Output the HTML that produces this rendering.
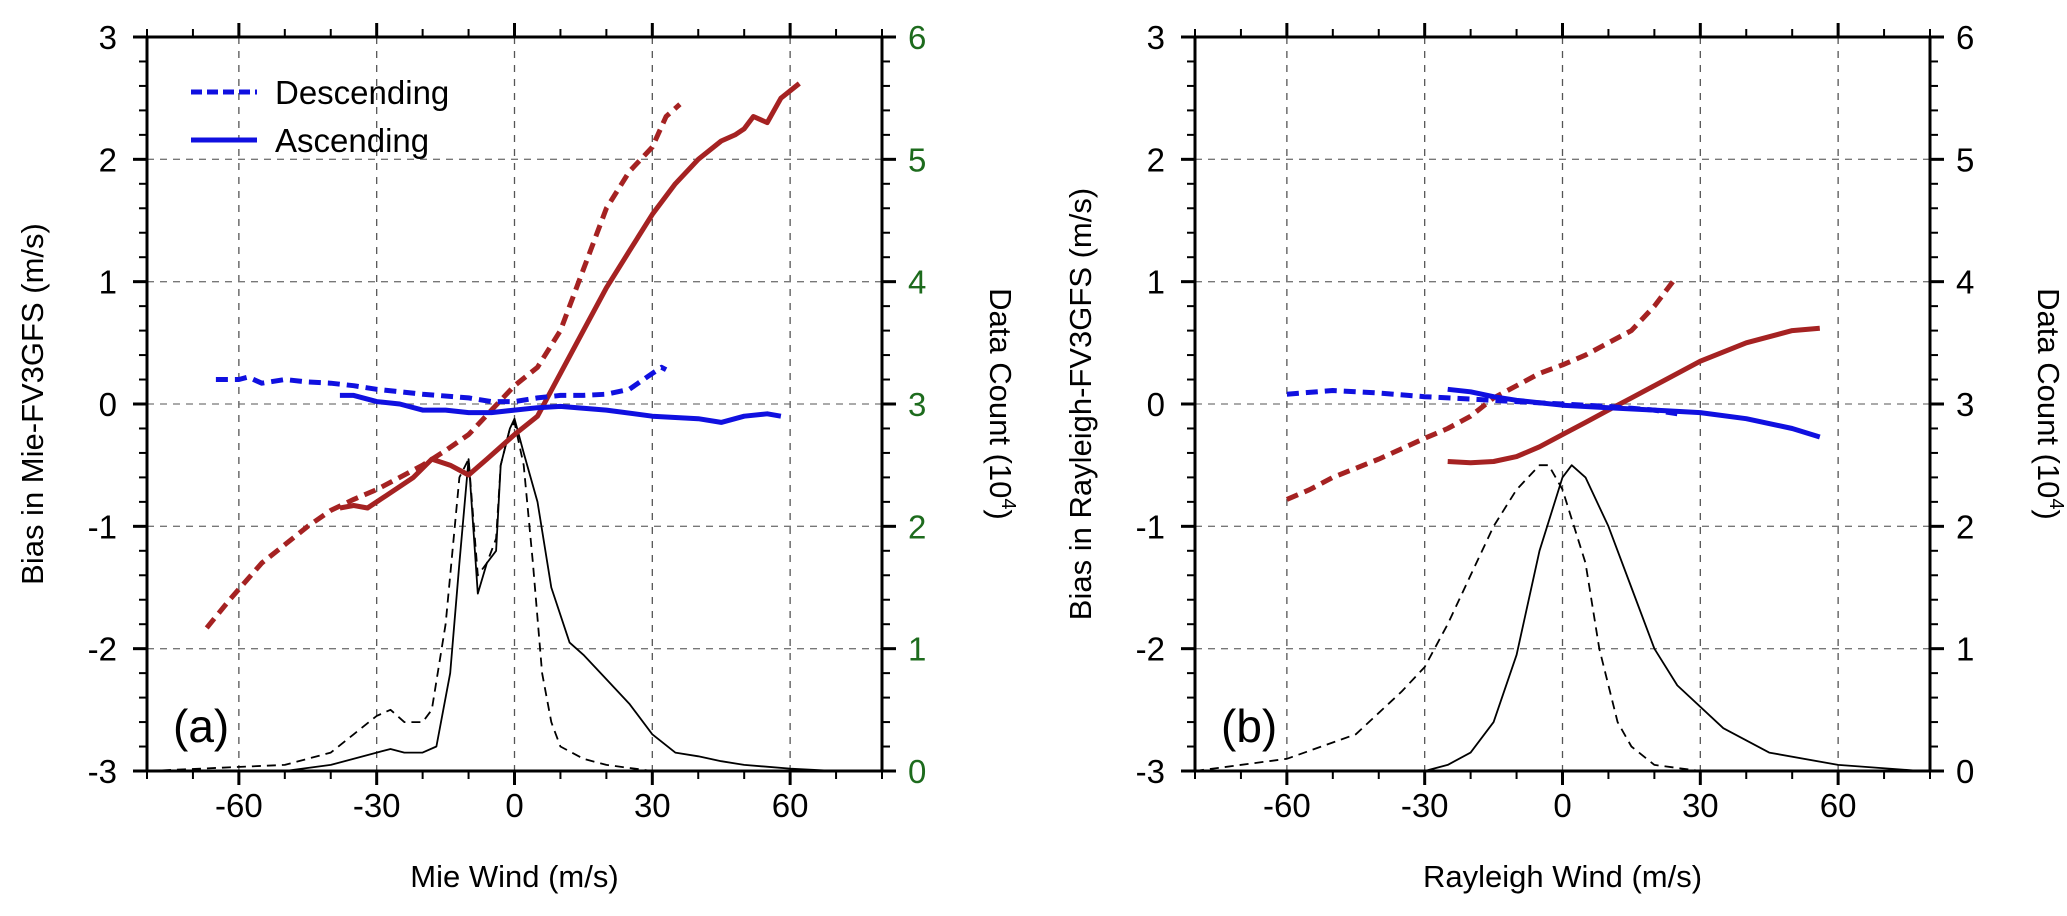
<!DOCTYPE html>
<html><head><meta charset="utf-8"><style>
html,body{margin:0;padding:0;background:#fff;}
svg{display:block;font-family:"Liberation Sans",sans-serif;}
</style></head><body>
<svg id="chart" width="2067" height="916" viewBox="0 0 2067 916" xmlns="http://www.w3.org/2000/svg"></svg>
<script>
// ---- Panel (a) Mie data ----
const aRedDashX=[-67,-62,-55,-50,-45,-40,-35,-30,-25,-20,-15,-10,-5,0,5,10,15,20,25,30,33,36];
const aRedDashY=[-1.83,-1.6,-1.3,-1.15,-1.0,-0.87,-0.78,-0.7,-0.6,-0.5,-0.38,-0.25,-0.05,0.15,0.3,0.6,1.1,1.6,1.9,2.1,2.35,2.45];
const aRedSolX=[-38,-35,-32,-28,-22,-18,-14,-10,-6,0,5,10,15,20,25,30,35,40,45,48,50,52,55,58,62];
const aRedSolY=[-0.85,-0.83,-0.85,-0.75,-0.6,-0.45,-0.5,-0.58,-0.45,-0.25,-0.1,0.25,0.6,0.95,1.25,1.55,1.8,2.0,2.15,2.2,2.25,2.35,2.3,2.5,2.62];
const aBlueDashX=[-65,-60,-58,-55,-50,-45,-40,-35,-30,-20,-10,-5,0,5,10,15,20,25,30,32,33];
const aBlueDashY=[0.2,0.2,0.22,0.17,0.2,0.18,0.17,0.15,0.12,0.08,0.05,0.02,0.02,0.05,0.07,0.07,0.08,0.12,0.25,0.3,0.28];
const aBlueSolX=[-38,-35,-30,-25,-20,-15,-10,-5,0,5,10,20,30,40,45,50,55,58];
const aBlueSolY=[0.07,0.07,0.02,0.0,-0.05,-0.05,-0.07,-0.07,-0.05,-0.03,-0.02,-0.05,-0.1,-0.12,-0.15,-0.1,-0.08,-0.1];
const aCntDashX=[-80,-50,-40,-35,-30,-27,-24,-20,-18,-15,-12,-10,-8,-6,-4,-3,-1,0,2,4,6,8,10,15,20,30,35];
const aCntDashY=[0,0.05,0.15,0.3,0.45,0.5,0.4,0.4,0.5,1.2,2.4,2.55,1.6,1.7,1.9,2.5,2.8,2.85,2.5,1.7,0.8,0.4,0.2,0.1,0.05,0,0];
const aCntSolX=[-80,-50,-40,-30,-27,-24,-20,-17,-14,-12,-10,-8,-6,-4,-3,-1,0,2,5,8,12,15,20,25,30,35,40,45,50,60,70];
const aCntSolY=[0,0,0.05,0.15,0.18,0.15,0.15,0.2,0.8,1.7,2.55,1.45,1.7,1.8,2.5,2.8,2.88,2.6,2.2,1.5,1.05,0.95,0.75,0.55,0.3,0.15,0.12,0.08,0.05,0.02,0];
// ---- Panel (b) Rayleigh data ----
const bRedDashX=[-60,-55,-50,-40,-30,-25,-20,-15,-10,-5,0,5,10,15,20,24];
const bRedDashY=[-0.78,-0.7,-0.6,-0.45,-0.28,-0.2,-0.1,0.05,0.15,0.25,0.32,0.4,0.5,0.6,0.8,1.0];
const bRedSolX=[-25,-20,-15,-10,-5,0,5,10,15,20,30,40,50,56];
const bRedSolY=[-0.47,-0.48,-0.47,-0.43,-0.35,-0.25,-0.15,-0.05,0.05,0.15,0.35,0.5,0.6,0.62];
const bBlueDashX=[-60,-50,-40,-30,-20,-10,0,10,20,25];
const bBlueDashY=[0.08,0.11,0.09,0.06,0.04,0.02,0.0,-0.02,-0.05,-0.08];
const bBlueSolX=[-25,-20,-15,-10,0,10,20,30,40,50,56];
const bBlueSolY=[0.12,0.1,0.06,0.03,-0.01,-0.03,-0.05,-0.07,-0.12,-0.2,-0.27];
const bCntDashX=[-80,-60,-45,-35,-30,-25,-20,-15,-10,-5,-3,0,5,8,12,15,20,30];
const bCntDashY=[0,0.1,0.3,0.65,0.85,1.2,1.6,2.0,2.3,2.5,2.5,2.3,1.7,1.0,0.4,0.2,0.05,0];
const bCntSolX=[-30,-25,-20,-15,-10,-5,0,2,5,10,15,20,25,35,45,60,78];
const bCntSolY=[0,0.05,0.15,0.4,0.95,1.8,2.4,2.5,2.4,2.0,1.5,1.0,0.7,0.35,0.15,0.05,0];
const xTicks=[-60,-30,0,30,60];
const yTicks=[-3,-2,-1,0,1,2,3];
const cTicks=[0,1,2,3,4,5,6];

const NS='http://www.w3.org/2000/svg';
const svg=document.getElementById('chart');
function mk(tag,attrs,parent){const e=document.createElementNS(NS,tag);for(const k in attrs)e.setAttribute(k,attrs[k]);(parent||svg).appendChild(e);return e;}

function panel(p){
  const L=p.left,R=p.left+735,T=37,B=771;
  const sx=v=>L+(v+80)/160*(R-L);
  const sy=v=>T+(3-v)/6*(B-T);
  const sc=c=>sy(c-3);
  const g=mk('g',{});
  
  
  xTicks.forEach(t=>{const l=mk('line',{x1:sx(t),x2:sx(t),y1:T,y2:B,stroke:'#555','stroke-width':1.3,'stroke-dasharray':'7,7'},g);
    });
  yTicks.slice(1,-1).forEach(t=>{const l=mk('line',{x1:L,x2:R,y1:sy(t),y2:sy(t),stroke:'#777','stroke-width':1.3,'stroke-dasharray':'7,6'},g);
    });
  function line(xs,ys,map,color,w,dash,name){
    const d=xs.map((x,i)=>(i?'L':'M')+sx(x).toFixed(1)+','+map(ys[i]).toFixed(1)).join('');
    const e=mk('path',{d:d,fill:'none',stroke:color,'stroke-width':w,'stroke-linejoin':'round'},g);
    if(dash)e.setAttribute('stroke-dasharray',dash);
    
    
  }
  line(p.cdx,p.cdy,sc,'#000',1.8,'9,6','count-descending-line');
  line(p.csx,p.csy,sc,'#000',1.8,null,'count-ascending-line');
  line(p.rdx,p.rdy,sy,'#a52222',5,'12,7','bias-descending-red-line');
  line(p.rsx,p.rsy,sy,'#a52222',5,null,'bias-ascending-red-line');
  line(p.bdx,p.bdy,sy,'#1010e0',5,'12,7','bias-descending-blue-line');
  line(p.bsx,p.bsy,sy,'#1010e0',5,null,'bias-ascending-blue-line');
  const fr=mk('rect',{x:L,y:T,width:R-L,height:B-T,fill:'none',stroke:'#000','stroke-width':3},g);
  
  for(let v=-80;v<=80;v+=10){const maj=xTicks.includes(v);const len=maj?14:8;
    mk('line',{x1:sx(v),x2:sx(v),y1:T,y2:T-len,stroke:'#000','stroke-width':maj?3:2},g);
    mk('line',{x1:sx(v),x2:sx(v),y1:B,y2:B+len,stroke:'#000','stroke-width':maj?3:2},g);}
  xTicks.forEach(t=>{const e=mk('text',{x:sx(t),y:B+46,'font-size':33,'text-anchor':'middle'},g);e.textContent=String(t);
    });
  for(let i=0;i<=30;i++){const v=-3+i*0.2;const maj=i%5===0;const len=maj?14:8;
    mk('line',{x1:L,x2:L-len,y1:sy(v),y2:sy(v),stroke:'#000','stroke-width':maj?3:2},g);
    mk('line',{x1:R,x2:R+len,y1:sy(v),y2:sy(v),stroke:'#000','stroke-width':maj?3:2},g);}
  yTicks.forEach(t=>{const e=mk('text',{x:L-30,y:sy(t)+12,'font-size':33,'text-anchor':'end'},g);e.textContent=String(t);
    });
  cTicks.forEach(t=>{const e=mk('text',{x:R+26,y:sc(t)+12,'font-size':33,'text-anchor':'start',fill:p.rc},g);e.textContent=String(t);
    });
  let e=mk('text',{x:(L+R)/2,y:887,'font-size':31,'text-anchor':'middle'},g);e.textContent=p.xt;
  
  e=mk('text',{x:0,y:0,'font-size':31,'text-anchor':'middle',transform:`translate(${L-104},${(T+B)/2}) rotate(-90)`},g);e.textContent=p.yt;
  
  e=mk('text',{x:0,y:0,'font-size':31,'text-anchor':'middle',transform:`translate(${R+108},${(T+B)/2}) rotate(90)`},g);
  e.innerHTML='Data Count (10<tspan dy="-12" font-size="20">4</tspan><tspan dy="12">)</tspan>';
  
  e=mk('text',{x:L+26,y:742,'font-size':46},g);e.textContent=p.lab;
  
  if(p.legend){
    const lg=mk('g',{},g);
    mk('line',{x1:L+44,x2:L+110,y1:92,y2:92,stroke:'#1010e0','stroke-width':5,'stroke-dasharray':'11,5'},lg);
    mk('line',{x1:L+44,x2:L+110,y1:140,y2:140,stroke:'#1010e0','stroke-width':5},lg);
    let t=mk('text',{x:L+128,y:104,'font-size':33},lg);t.textContent='Descending';
    t=mk('text',{x:L+128,y:152,'font-size':33},lg);t.textContent='Ascending';
  }
}
panel({name:'panel-a-mie',left:147,xt:'Mie Wind (m/s)',yt:'Bias in Mie-FV3GFS (m/s)',lab:'(a)',rc:'#1d6b1d',legend:true,
  rdx:aRedDashX,rdy:aRedDashY,rsx:aRedSolX,rsy:aRedSolY,bdx:aBlueDashX,bdy:aBlueDashY,bsx:aBlueSolX,bsy:aBlueSolY,
  cdx:aCntDashX,cdy:aCntDashY,csx:aCntSolX,csy:aCntSolY});
panel({name:'panel-b-rayleigh',left:1195,xt:'Rayleigh Wind (m/s)',yt:'Bias in Rayleigh-FV3GFS (m/s)',lab:'(b)',rc:'#000',legend:false,
  rdx:bRedDashX,rdy:bRedDashY,rsx:bRedSolX,rsy:bRedSolY,bdx:bBlueDashX,bdy:bBlueDashY,bsx:bBlueSolX,bsy:bBlueSolY,
  cdx:bCntDashX,cdy:bCntDashY,csx:bCntSolX,csy:bCntSolY});
</script>
</body></html>
